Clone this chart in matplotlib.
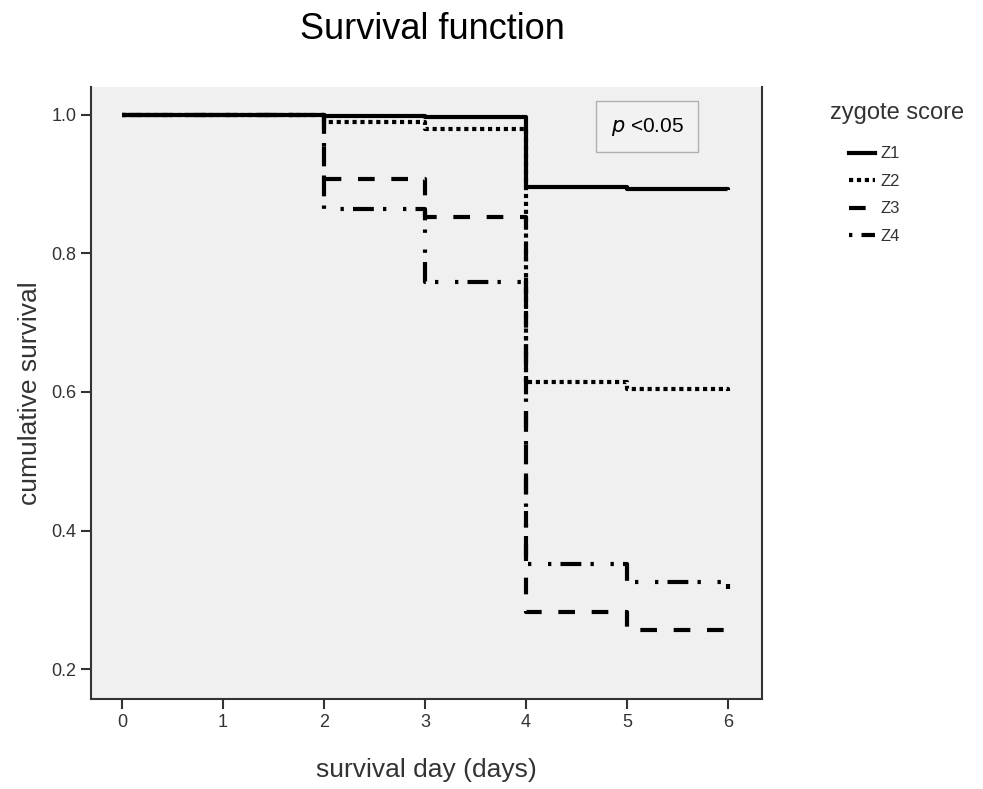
import matplotlib.pyplot as plt
from matplotlib.lines import Line2D

plt.rcParams['font.family'] = ['Liberation Sans', 'DejaVu Sans']

# data (Kaplan-Meier steps)
days = [0, 2, 3, 4, 5, 6]
z1 = [1.0, 0.998, 0.997, 0.896, 0.893, 0.891]
z2 = [1.0, 0.989, 0.979, 0.615, 0.604, 0.602]
z3 = [1.0, 0.907, 0.853, 0.282, 0.256, 0.243]
z4 = [1.0, 0.864, 0.758, 0.352, 0.326, 0.316]
labels = ['Z1', 'Z2', 'Z3', 'Z4']

styles = ['-', (0, (1, 0.9)), (0, (4, 4)), (0, (0.8, 2.2, 5, 2.2, 0.8, 4))]

fig = plt.figure(figsize=(9.83, 7.89), dpi=100)
ax = fig.add_axes([0.0926, 0.1141, 0.6826, 0.7756])
ax.set_facecolor('#f0f0f0')

handles = []
for vals, ls, lab in zip([z1, z2, z3, z4], styles, labels):
    ax.step(days, vals, where='post', color='black', lw=3, ls=ls,
            solid_capstyle='butt', dash_capstyle='butt', label=lab)
    handles.append(Line2D([0], [0], color='black', lw=3, ls=ls))

ax.set_xlim(-0.307, 6.337)
ax.set_ylim(0.157, 1.040)
ax.set_xticks(range(7))
ax.set_yticks([0.2, 0.4, 0.6, 0.8, 1.0])
ax.set_yticklabels(['0.2', '0.4', '0.6', '0.8', '1.0'])
ax.tick_params(direction='out', length=7, width=1.5, colors='#333333',
               labelsize=13, labelcolor='#333333')

ax.spines['top'].set_visible(False)
for s in ['left', 'bottom', 'right']:
    ax.spines[s].set_color('#333333')
    ax.spines[s].set_linewidth(1.5)

ax.set_xlabel('survival day (days)', fontsize=19, color='#333333', labelpad=20)
ax.set_ylabel('cumulative survival', fontsize=19, color='#333333', labelpad=7)
fig.text(0.44, 0.962, 'Survival function', fontsize=26, ha='center', va='center')

# p-value box
ax.text(5.2, 0.983, '$p$ <0.05', fontsize=15, ha='center', va='center',
        bbox=dict(boxstyle='square,pad=0.7', fc='#f2f2f2', ec='#b0b0b0', lw=1))

fig.text(0.844, 0.857, 'zygote score', fontsize=17, ha='left', va='center',
         color='#333333')
leg = fig.legend(handles, labels, loc='upper left',
                 bbox_to_anchor=(0.855, 0.825), frameon=False, fontsize=12,
                 handlelength=1.6, handletextpad=0.3, labelspacing=0.75,
                 borderpad=0)
for t in leg.get_texts():
    t.set_color('#333333')

fig.savefig('out.png', dpi=100)
